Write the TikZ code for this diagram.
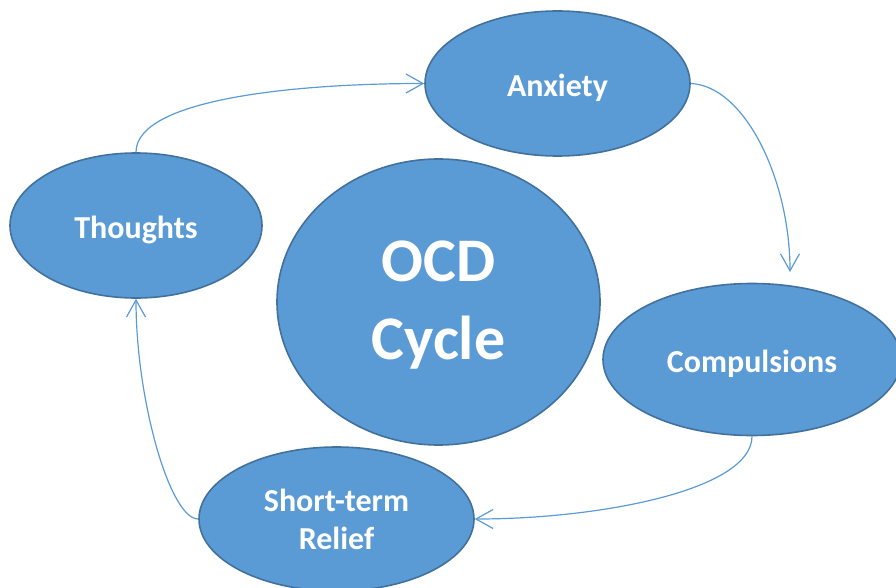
\documentclass[tikz,border=0pt]{standalone}
\usepackage{fontspec}
\setmainfont{Carlito}
\usetikzlibrary{shapes.geometric,arrows.meta}
\definecolor{bubblefill}{HTML}{5B9BD5}
\definecolor{bubbleline}{HTML}{41719C}
\definecolor{flow}{HTML}{5B9BD5}
\begin{document}
\begin{tikzpicture}[x=1pt,y=-1pt,
  bubble/.style={ellipse, draw=bubbleline, line width=1.6pt, fill=bubblefill,
    text=white, font=\bfseries\fontsize{32}{38}\selectfont, inner sep=0pt, align=center},
  oneline/.style={text height=26pt, text depth=0pt},
  flowline/.style={draw=flow, line width=1.2pt,
    -{Straight Barb[length=17pt,width=19pt]}}]
\useasboundingbox (0,0) rectangle (896,588);
\clip (0,0) rectangle (896,588);

% the four stages and the centre title
\node[bubble, oneline, minimum width=265pt, minimum height=145pt] (anx) at (557.5,83.5) {Anxiety};
\node[bubble, oneline, minimum width=252pt, minimum height=145pt] (th) at (136,225.5) {Thoughts};
\node[bubble, oneline, minimum width=298pt, minimum height=152pt] (comp) at (752,359.5) {Compulsions};
\node[bubble, minimum width=275pt, minimum height=144pt] (rel) at (336.5,519) {Short-term\\Relief};
\node[bubble, font=\bfseries\fontsize{62}{78}\selectfont, minimum width=323pt, minimum height=286pt]
  (ocd) at (438.5,302) {\raisebox{0pt}[46pt][0pt]{OCD}\\Cycle};

% curved arrows running clockwise round the cycle
\coordinate (cin) at (790,272);
\draw[flowline] (th.north) .. controls (136,100) and (290,83.5) .. (anx.west);
\draw[flowline] (anx.east) .. controls (745,86) and (790,180) .. (cin);
\draw[flowline] (comp.south) .. controls (752,490) and (600,519) .. (rel.east);
\draw[flowline] (rel.west) .. controls (170,519) and (136,400) .. (th.south);
\end{tikzpicture}
\end{document}
